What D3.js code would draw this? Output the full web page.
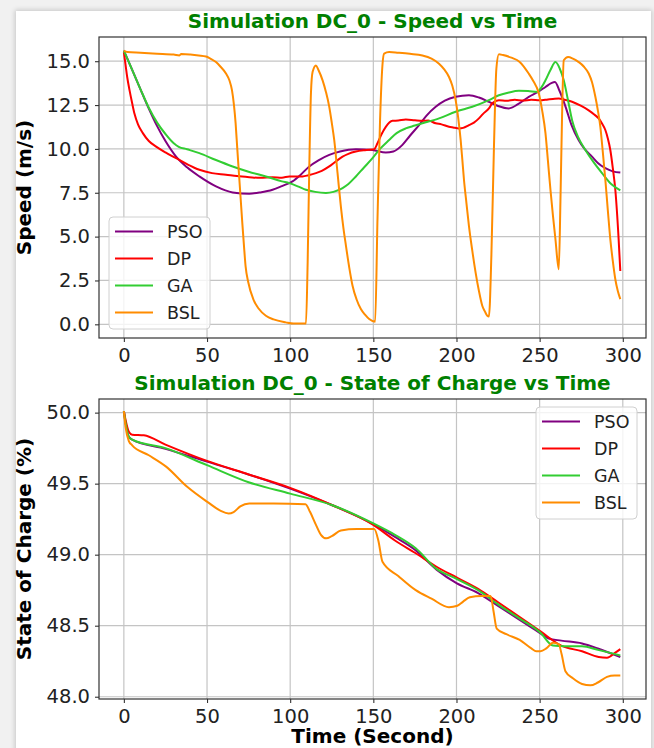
<!DOCTYPE html>
<html>
<head>
<meta charset="utf-8">
<script src="https://cdn.jsdelivr.net/npm/d3@7"></script>
<style>
  html, body { margin: 0; padding: 0; background: #f1f1f1; width: 654px; height: 748px; overflow: hidden; }
  #card { position: absolute; left: 16px; top: 11px; width: 635px; height: 760px; background: #fff;
          box-shadow: 0 0 5px 1px rgba(0,0,0,0.18); }
  svg { position: absolute; left: 0; top: 0; }
  text { font-family: "DejaVu Sans", sans-serif; }
</style>
</head>
<body>
<div id="card"></div>
<svg id="chart" width="654" height="748"></svg>
<script>
// ---------------- DATA ----------------
const seriesNames = ["PSO", "DP", "GA", "BSL"];
const xTicks = [0, 50, 100, 150, 200, 250, 300];
const speedTicks = [0.0, 2.5, 5.0, 7.5, 10.0, 12.5, 15.0];
const socTicks = [48.0, 48.5, 49.0, 49.5, 50.0];
const speedTitle = "Simulation DC_0 - Speed vs Time";
const socTitle = "Simulation DC_0 - State of Charge vs Time";
const speedLabel = "Speed (m/s)";
const socLabel = "State of Charge (%)";
const timeLabel = "Time (Second)";

// [time (s), speed (m/s)]
const speedPSO = [[0,15.6],[5,14.5],[10,13.4],[15,12.3],[20,11.3],[25,10.45],[31.4,9.56],[38,8.95],[45.4,8.43],[55.4,7.86],[65.4,7.52],[75.4,7.45],[82,7.52],[89.4,7.67],[95,7.88],[101.4,8.15],[106,8.5],[111.5,9.0],[117,9.35],[123.5,9.66],[130,9.85],[139.5,9.98],[149.5,9.94],[157.5,9.79],[162,9.85],[167.5,10.23],[172,10.75],[177.5,11.36],[182,11.9],[187.5,12.4],[193,12.75],[199.5,12.97],[207.5,13.06],[213.5,12.93],[219.5,12.68],[225,12.45],[231.5,12.31],[237,12.55],[243.5,12.97],[249,13.25],[253.5,13.53],[257,13.75],[259.2,13.82],[262,13.3],[265.6,12.4],[269,11.4],[273.5,10.5],[277,10.0],[281.5,9.56],[285,9.2],[289.5,8.9],[294,8.72],[298.5,8.65]];
const speedDP = [[0,15.5],[1,14.8],[2,14.1],[3.4,13.35],[5,12.6],[6.4,12.0],[8.5,11.4],[11.4,10.9],[15,10.45],[19.4,10.13],[25,9.8],[31.4,9.47],[38,9.13],[45.4,8.81],[53,8.62],[61.4,8.53],[68,8.45],[75.4,8.39],[82,8.35],[89.4,8.39],[95,8.36],[99.5,8.43],[107.5,8.43],[111,8.5],[115.5,8.62],[119,8.75],[123.5,9.0],[127,9.25],[131.5,9.56],[135,9.72],[139.5,9.85],[145,9.93],[150.5,9.98],[152.5,10.32],[155,10.85],[157.5,11.26],[161.5,11.6],[165,11.62],[169.5,11.68],[175,11.63],[179.5,11.6],[183,11.62],[187.5,11.46],[191,11.4],[195.5,11.26],[198,11.22],[201.5,11.17],[204,11.2],[207.5,11.36],[210.5,11.5],[213.5,11.74],[216,12.0],[219.5,12.31],[221.5,12.6],[225.5,12.78],[230,12.74],[235,12.8],[240,12.76],[245,12.8],[250,12.77],[255,12.82],[258,12.85],[261.5,12.88],[265,12.8],[269.5,12.69],[275,12.45],[279.5,12.2],[283,11.95],[285.5,11.74],[287.5,11.45],[289.5,11.08],[291,10.6],[292.5,9.94],[294,8.9],[295.5,7.67],[297.5,4.84],[298.5,3.04]];
const speedGA = [[0,15.6],[5,14.5],[10,13.4],[15,12.35],[20,11.5],[25,10.85],[30,10.32],[33,10.12],[38,9.98],[45.4,9.76],[55,9.38],[65.4,9.0],[75,8.7],[85.4,8.43],[95,8.15],[99.5,8.05],[105,7.85],[109.5,7.67],[115,7.55],[121.5,7.49],[126,7.55],[131.5,7.77],[135,8.0],[139.5,8.43],[144,8.9],[149.5,9.47],[154,10.0],[159.5,10.51],[164,10.9],[169.5,11.17],[175,11.33],[179.5,11.46],[189.5,11.74],[199.5,12.12],[209.5,12.4],[219.5,12.78],[225.5,13.06],[231,13.2],[237.5,13.31],[243,13.3],[248.5,13.25],[251,13.5],[253.5,13.91],[256.5,14.5],[259.5,14.95],[262,14.6],[264.5,13.91],[267,12.8],[269.5,11.64],[273,10.7],[277.5,9.94],[282,9.3],[287.5,8.62],[293,8.0],[298.5,7.64]];
const speedBSL = [[0,15.6],[2,15.52],[10,15.48],[20,15.43],[30,15.38],[33.4,15.33],[34.5,15.41],[40,15.38],[45,15.33],[49.4,15.27],[52,15.15],[55.4,14.95],[58,14.7],[61.4,14.3],[63.5,13.9],[65,13.35],[66.2,12.5],[67.2,11.46],[68.2,10.0],[69.2,8.6],[70.2,7.2],[71.2,5.8],[72.2,4.5],[73.2,3.3],[74.8,2.4],[77.8,1.44],[81,0.9],[85.4,0.49],[90,0.28],[97.4,0.11],[102,0.04],[109.5,0.04],[110.5,3.5],[111.5,9],[112.5,13.2],[113.5,14.4],[115.5,14.76],[117,14.5],[119.5,13.91],[121.5,13.25],[123.5,12.4],[125,11.5],[126.5,10.5],[128.5,8.6],[130.5,6.7],[132,5.5],[133.5,4.5],[135.5,3.25],[137.5,2.2],[140,1.4],[142.5,0.87],[145,0.55],[147.5,0.3],[151.1,0.15],[152.5,6],[154,11.5],[155.5,14.8],[156.5,15.43],[159.5,15.52],[165,15.48],[172,15.42],[179.5,15.33],[185,15.15],[189.5,14.86],[192.5,14.55],[195.5,14.1],[197.5,13.6],[199.5,12.78],[201,11.8],[202.5,10.51],[203.5,9.4],[204.5,8.24],[206,6.9],[207.5,5.6],[209.5,4.2],[211.5,2.95],[213.5,1.9],[215.5,1.06],[217,0.75],[218.5,0.49],[219.5,0.45],[221,4],[222.5,10],[224,14.6],[225.5,15.39],[228,15.35],[233,15.2],[238,14.96],[243.4,14.3],[246,13.9],[249.5,13.16],[251.5,12.2],[253.5,10.9],[255,9.3],[256.5,7.67],[258,6.2],[259.5,4.85],[261.5,3.14],[262.5,7],[263.5,12],[264.5,15.05],[267.1,15.24],[270,15.15],[273.5,14.95],[276.5,14.7],[279.5,14.3],[281.5,13.8],[283.5,12.97],[285,12.2],[286.5,11.26],[288,9.8],[289.5,8.24],[291,6.5],[292.5,4.84],[294,3.6],[295.5,2.57],[297,1.9],[298.5,1.44]];

// [time (s), state of charge (%)]
const socPSO = [[0,50.01],[1,49.93],[3,49.83],[5,49.81],[25,49.745],[50,49.655],[75,49.565],[100,49.465],[125,49.35],[150,49.215],[163,49.125],[175,49.035],[188,48.895],[200,48.8],[213,48.73],[225,48.64],[238,48.54],[250,48.45],[255.5,48.41],[263,48.395],[275.5,48.375],[285,48.34],[298.5,48.28]];
const socDP = [[0,50.01],[1,49.95],[3,49.865],[5,49.845],[12,49.84],[25,49.775],[50,49.66],[75,49.565],[100,49.47],[125,49.35],[150,49.21],[163,49.1],[175.5,49.01],[188,48.915],[200,48.84],[213,48.76],[225,48.665],[238,48.56],[250.5,48.46],[263,48.36],[275.5,48.32],[285.5,48.28],[290.5,48.275],[295.5,48.31],[298.5,48.335]];
const socGA = [[0,50.01],[1,49.93],[3,49.83],[5,49.81],[25,49.75],[50,49.63],[75,49.51],[100,49.43],[125,49.35],[150,49.22],[163,49.14],[175.5,49.045],[188,48.9],[200,48.83],[213,48.75],[225,48.65],[238,48.55],[250.5,48.45],[258,48.36],[265,48.355],[275.5,48.355],[285,48.33],[298.5,48.29]];
const socBSL = [[0,50.01],[1,49.9],[3,49.8],[5,49.77],[15,49.7],[25.4,49.62],[37.9,49.48],[50.4,49.37],[58,49.31],[63,49.29],[66,49.3],[70,49.34],[75.4,49.36],[90,49.36],[109.2,49.355],[112,49.3],[115.5,49.21],[118.5,49.14],[121.7,49.115],[125,49.13],[130.5,49.17],[140,49.18],[150.5,49.18],[153,49.1],[155.5,48.95],[165,48.85],[175.5,48.75],[185,48.69],[195.5,48.63],[200.5,48.64],[204,48.67],[208,48.7],[215,48.71],[220.5,48.71],[222.3,48.6],[224.2,48.48],[230,48.44],[238,48.4],[245,48.34],[248,48.32],[250.5,48.32],[254,48.34],[258,48.38],[261.5,48.37],[263.2,48.3],[265.5,48.18],[270,48.13],[275.5,48.09],[280.5,48.08],[285,48.1],[290.5,48.14],[295,48.15],[298.5,48.15]];

const speedSeries = [speedPSO, speedDP, speedGA, speedBSL];
const socSeries = [socPSO, socDP, socGA, socBSL];

// ---------------- STYLE / LAYOUT ----------------
const colors = ["#800080", "#ff0000", "#32cd32", "#ff8c00"];
const plotL = 99, plotR = 646;
const panels = [
  { top: 37, bottom: 338, yDomain: [-0.78, 16.38], ticks: speedTicks, fmt: d3.format(".1f"),
    series: speedSeries, title: speedTitle, titleY: 28, ylabel: speedLabel, xlabel: null,
    legend: { x: 109, y: 217, w: 101, h: 112 } },
  { top: 399, bottom: 699, yDomain: [47.984, 50.096], ticks: socTicks, fmt: d3.format(".1f"),
    series: socSeries, title: socTitle, titleY: 390, ylabel: socLabel, xlabel: timeLabel,
    legend: { x: 536, y: 407, w: 101, h: 112 } }
];

const svg = d3.select("#chart");
const x = d3.scaleLinear().domain([-14.95, 313.95]).range([plotL, plotR]);

panels.forEach(p => {
  const y = d3.scaleLinear().domain(p.yDomain).range([p.bottom, p.top]);
  const g = svg.append("g");

  g.append("rect").attr("x", plotL).attr("y", p.top).attr("width", plotR - plotL)
    .attr("height", p.bottom - p.top).attr("fill", "#fff");

  const clipId = "clip" + p.top;
  svg.append("clipPath").attr("id", clipId).append("rect")
    .attr("x", plotL).attr("y", p.top).attr("width", plotR - plotL).attr("height", p.bottom - p.top);

  // grid
  const grid = g.append("g").attr("stroke", "#c4c4c4").attr("stroke-width", 1.2);
  xTicks.forEach(t => grid.append("line").attr("x1", x(t)).attr("x2", x(t))
    .attr("y1", p.top).attr("y2", p.bottom));
  p.ticks.forEach(t => grid.append("line").attr("y1", y(t)).attr("y2", y(t))
    .attr("x1", plotL).attr("x2", plotR));

  // lines
  const line = d3.line().x(d => x(d[0])).y(d => y(d[1])).curve(d3.curveMonotoneX);
  const lg = g.append("g").attr("clip-path", `url(#${clipId})`);
  p.series.forEach((s, i) => {
    lg.append("path").datum(s).attr("d", line).attr("fill", "none")
      .attr("stroke", colors[i]).attr("stroke-width", 2).attr("stroke-linejoin", "round");
  });

  // axes
  const xAxis = d3.axisBottom(x).tickValues(xTicks).tickSize(4).tickPadding(5).tickFormat(d3.format("d"));
  const yAxis = d3.axisLeft(y).tickValues(p.ticks).tickSize(4).tickPadding(5).tickFormat(p.fmt);
  const xa = g.append("g").attr("transform", `translate(0,${p.bottom})`).call(xAxis);
  const ya = g.append("g").attr("transform", `translate(${plotL},0)`).call(yAxis);
  [xa, ya].forEach(a => {
    a.select(".domain").remove();
    a.selectAll(".tick line").attr("stroke", "#333").attr("stroke-width", 1.1);
    a.selectAll(".tick text").attr("fill", "#222").style("font-size", "19.5px")
      .style("font-family", "'DejaVu Sans', sans-serif");
  });
  xa.selectAll(".tick text").attr("dy", null).attr("y", 24);

  // spines
  g.append("rect").attr("x", plotL).attr("y", p.top).attr("width", plotR - plotL)
    .attr("height", p.bottom - p.top).attr("fill", "none").attr("stroke", "#333").attr("stroke-width", 1.2);

  // title
  g.append("text").attr("x", (plotL + plotR) / 2).attr("y", p.titleY).attr("text-anchor", "middle")
    .attr("fill", "#008000").style("font-weight", "bold").style("font-size", "20px").text(p.title);

  // y label
  g.append("text").attr("transform", `translate(31,${(p.top + p.bottom) / 2}) rotate(-90)`)
    .attr("text-anchor", "middle").attr("fill", "#000").style("font-weight", "bold")
    .style("font-size", "20px").text(p.ylabel);

  if (p.xlabel) {
    g.append("text").attr("x", (plotL + plotR) / 2).attr("y", p.bottom + 44)
      .attr("text-anchor", "middle").attr("fill", "#000").style("font-weight", "bold")
      .style("font-size", "20px").text(p.xlabel);
  }

  // legend
  const L = p.legend;
  const leg = g.append("g").attr("transform", `translate(${L.x},${L.y})`);
  leg.append("rect").attr("width", L.w).attr("height", L.h).attr("rx", 4)
    .attr("fill", "#fff").attr("fill-opacity", 0.8).attr("stroke", "#d0d0d0").attr("stroke-width", 1);
  seriesNames.forEach((n, i) => {
    const yy = 14.5 + i * 27;
    leg.append("line").attr("x1", 6).attr("x2", 44).attr("y1", yy).attr("y2", yy)
      .attr("stroke", colors[i]).attr("stroke-width", 2);
    leg.append("text").attr("x", 58).attr("y", yy).attr("dy", "0.36em").attr("fill", "#222")
      .style("font-size", "17.5px").text(n);
  });
});
</script>
</body>
</html>
